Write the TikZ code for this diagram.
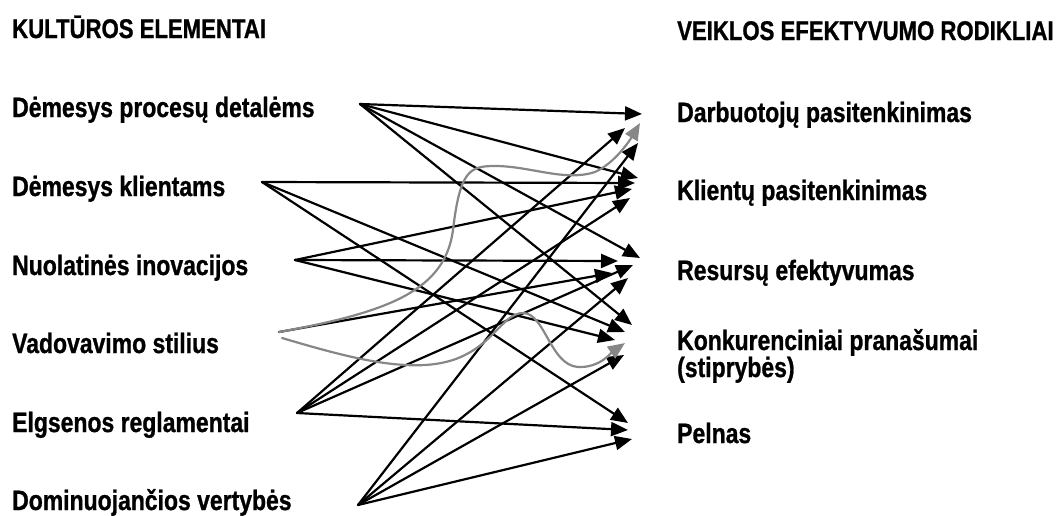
\documentclass[tikz,border=0pt]{standalone}
\usepackage{fontspec}
\setmainfont{Liberation Sans}[FakeStretch=0.82, BoldFeatures={FakeBold=0.9}]
\usetikzlibrary{arrows.meta}
\definecolor{curvegray}{RGB}{135,135,135}

\begin{document}
\begin{tikzpicture}[x=1pt,y=-1pt,
  lbl/.style={anchor=base west, inner sep=0pt, font=\fontsize{28}{32}\selectfont\bfseries},
  head/.style={lbl, font=\fontsize{27}{30}\selectfont\bfseries},
  link/.style={line width=2.2pt, line cap=round, -{Triangle[length=17pt,width=14pt]}},
  glink/.style={link, draw=curvegray}]
\useasboundingbox (0,0) rectangle (1061,515);

% column headings
\node[head] (hleft)  at (12,38)  {KULTŪROS ELEMENTAI};
\node[head] (hright) at (677,40) {VEIKLOS EFEKTYVUMO RODIKLIAI};

% culture elements
\node[lbl] (e1) at (12,117) {Dėmesys procesų detalėms};
\node[lbl] (e2) at (12,196) {Dėmesys klientams};
\node[lbl] (e3) at (12,275) {Nuolatinės inovacijos};
\node[lbl] (e4) at (12,353) {Vadovavimo stilius};
\node[lbl] (e5) at (12,432) {Elgsenos reglamentai};
\node[lbl] (e6) at (12,510) {Dominuojančios vertybės};

% performance indicators
\node[lbl] (r1) at (677,122) {Darbuotojų pasitenkinimas};
\node[lbl] (r2) at (677,200) {Klientų pasitenkinimas};
\node[lbl] (r3) at (677,280) {Resursų efektyvumas};
\node[lbl] (r4) at (677,350) {Konkurenciniai pranašumai};
\node[lbl] (r4b) at (677,377) {(stiprybės)};
\node[lbl] (r5) at (677,443) {Pelnas};

% starting points of the links
\coordinate (s1) at (360,104);
\coordinate (s2) at (262,182);
\coordinate (s3) at (295,260);
\coordinate (s4) at (279,332);
\coordinate (s4g) at (282,338);
\coordinate (s5) at (297,413);
\coordinate (s6) at (358,505);

% arrow tips at the indicators
\coordinate (t1a) at (642,114);
\coordinate (t1g) at (640,123);
\coordinate (t1b) at (625,128);
\coordinate (t1c) at (638,143);
\coordinate (t2a) at (638,178);
\coordinate (t2b) at (635,183);
\coordinate (t2c) at (632,189);
\coordinate (t2d) at (630,198);
\coordinate (t3a) at (640,258);
\coordinate (t3b) at (618,261);
\coordinate (t3c) at (612,273);
\coordinate (t3d) at (633,265);
\coordinate (t3e) at (628,278);
\coordinate (t4a) at (632,325);
\coordinate (t4b) at (625,332);
\coordinate (t4c) at (615,340);
\coordinate (t4g) at (625,343);
\coordinate (t4d) at (624,355);
\coordinate (t5a) at (628,423);
\coordinate (t5b) at (628,430);
\coordinate (t5c) at (632,439);

% black links
\draw[link] (s1) -- (t1a);
\draw[link] (s1) -- (t2a);
\draw[link] (s1) -- (t3a);
\draw[link] (s1) -- (t4a);

\draw[link] (s2) -- (t2b);
\draw[link] (s2) -- (t4b);
\draw[link] (s2) -- (t5a);

\draw[link] (s3) -- (t2c);
\draw[link] (s3) -- (t3b);
\draw[link] (s3) -- (t4c);

\draw[link] (s4) -- (t3c);

\draw[link] (s5) -- (t1b);
\draw[link] (s5) -- (t2d);
\draw[link] (s5) -- (t3d);
\draw[link] (s5) -- (t5b);

\draw[link] (s6) -- (t1c);
\draw[link] (s6) -- (t3e);
\draw[link] (s6) -- (t4d);
\draw[link] (s6) -- (t5c);

% grey curved links from leadership style
\draw[glink] (s4) .. controls (390,312) and (445,290) .. (453,230)
  .. controls (460,170) and (470,166) .. (495,166)
  .. controls (530,166) and (565,182) .. (595,172)
  .. controls (615,163) and (630,140) .. (t1g);
\draw[glink] (s4g) .. controls (350,358) and (420,378) .. (465,355)
  .. controls (495,340) and (505,313) .. (523,313)
  .. controls (545,313) and (550,365) .. (578,367)
  .. controls (600,368) and (612,352) .. (t4g);
\end{tikzpicture}
\end{document}
